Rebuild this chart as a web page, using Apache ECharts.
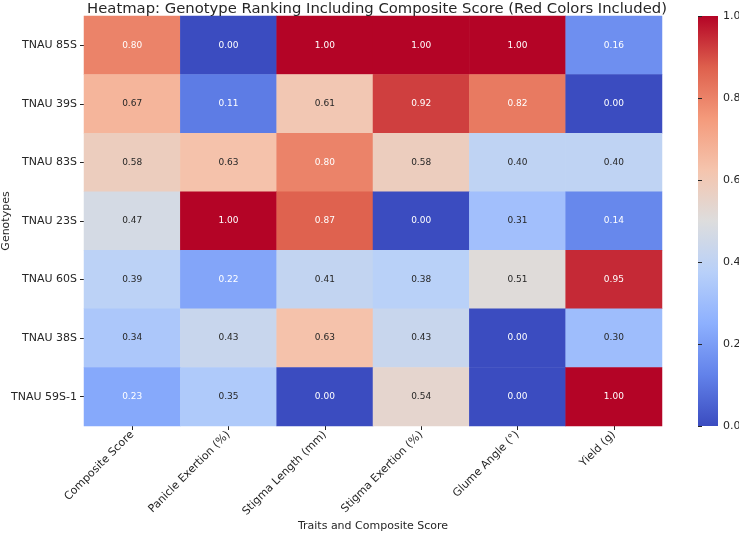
<!DOCTYPE html>
<html lang="en">
<head>
    <meta charset="UTF-8">
    <title>Heatmap: Genotype Ranking</title>
    <script src="https://cdn.jsdelivr.net/npm/echarts@6/dist/echarts.min.js"></script>
    <style>
        html, body { margin: 0; padding: 0; background: #fff; }
        #chart { width: 739px; height: 534px; }
    </style>
</head>
<body>
    <div id="chart"></div>
<script>
    // traits (x) and genotypes (y)
    const traits = ['Composite Score', 'Panicle Exertion (%)', 'Stigma Length (mm)', 'Stigma Exertion (%)', 'Glume Angle (°)', 'Yield (g)'];
    const genotypes = ['TNAU 85S', 'TNAU 39S', 'TNAU 83S', 'TNAU 23S', 'TNAU 60S', 'TNAU 38S', 'TNAU 59S-1'];

    // one row per genotype, same order as traits
    const row85S = [0.80, 0.00, 1.00, 1.00, 1.00, 0.16];
    const row39S = [0.67, 0.11, 0.61, 0.92, 0.82, 0.00];
    const row83S = [0.58, 0.63, 0.80, 0.58, 0.40, 0.40];
    const row23S = [0.47, 1.00, 0.87, 0.00, 0.31, 0.14];
    const row60S = [0.39, 0.22, 0.41, 0.38, 0.51, 0.95];
    const row38S = [0.34, 0.43, 0.63, 0.43, 0.00, 0.30];
    const row59S1 = [0.23, 0.35, 0.00, 0.54, 0.00, 1.00];
    const rows = [row85S, row39S, row83S, row23S, row60S, row38S, row59S1];

    // matplotlib coolwarm
    const coolwarm = ['#3b4cc0', '#6282ea', '#8db0fe', '#b8d0f9', '#dddddd', '#f5c4ad', '#f49a7b', '#de604d', '#b40426'];

    const font = 'DejaVu Sans';

    let data = [];
    for (let r = 0; r < rows.length; r++) {
        for (let c = 0; c < traits.length; c++) {
            let v = rows[r][c];
            let dark = v < 0.25 || v > 0.75;
            data.push({
                value: [c, r, v],
                label: { color: dark ? '#ffffff' : '#262626' }
            });
        }
    }

    // colorbar gradient, bottom = 0, top = 1
    let stops = coolwarm.map(function (c, i) {
        return { offset: 1 - i / (coolwarm.length - 1), color: c };
    }).reverse();

    let myChart = echarts.init(document.getElementById('chart'));
    let option = {
        animation: false,
        textStyle: { fontFamily: font },
        title: {
            text: 'Heatmap: Genotype Ranking Including Composite Score (Red Colors Included)',
            left: 372,
            textAlign: 'center',
            top: -3,
            textStyle: { fontFamily: font, fontSize: 14.8, fontWeight: 'normal', color: '#262626' }
        },
        grid: [
            { left: 84, top: 16, width: 578, height: 410, outerBoundsMode: 'none' },
            { left: 698, top: 16, width: 20, height: 410, outerBoundsMode: 'none' }
        ],
        graphic: [
            {
                type: 'rect',
                left: 698,
                top: 16,
                shape: { width: 20, height: 410 },
                style: { fill: new echarts.graphic.LinearGradient(0, 0, 0, 1, stops) },
                silent: true
            }
        ],
        xAxis: [
            {
                type: 'category',
                data: traits,
                gridIndex: 0,
                name: 'Traits and Composite Score',
                nameLocation: 'middle',
                nameGap: 95,
                nameMoveOverlap: false,
                nameTextStyle: { fontFamily: font, fontSize: 11, color: '#262626' },
                axisLine: { show: false },
                axisTick: { show: true, alignWithLabel: true, length: 4, lineStyle: { color: '#262626' } },
                axisLabel: { rotate: 45, fontSize: 11, color: '#262626', margin: 7, interval: 0 },
                splitLine: { show: false }
            },
            { type: 'value', gridIndex: 1, show: false, min: 0, max: 1 }
        ],
        yAxis: [
            {
                type: 'category',
                data: genotypes,
                gridIndex: 0,
                inverse: true,
                name: 'Genotypes',
                nameLocation: 'middle',
                nameGap: 72,
                nameRotate: 90,
                nameMoveOverlap: false,
                nameTextStyle: { fontFamily: font, fontSize: 11, color: '#262626' },
                axisLine: { show: false },
                axisTick: { show: true, alignWithLabel: true, length: 4, lineStyle: { color: '#262626' } },
                axisLabel: { fontSize: 11, color: '#262626', margin: 7 },
                splitLine: { show: false }
            },
            {
                type: 'value',
                gridIndex: 1,
                position: 'right',
                min: 0,
                max: 1,
                interval: 0.2,
                axisLine: { show: false },
                axisTick: { show: true, inside: false, length: 4, lineStyle: { color: '#262626' } },
                axisLabel: {
                    fontSize: 11, color: '#262626', margin: 5,
                    formatter: function (v) { return v.toFixed(1); }
                },
                splitLine: { show: false }
            }
        ],
        visualMap: {
            type: 'continuous',
            show: false,
            min: 0,
            max: 1,
            seriesIndex: 0,
            inRange: { color: coolwarm }
        },
        series: [
            {
                type: 'heatmap',
                xAxisIndex: 0,
                yAxisIndex: 0,
                data: data,
                label: {
                    show: true,
                    fontSize: 9,
                    fontFamily: font,
                    formatter: function (p) { return p.value[2].toFixed(2); }
                },
                itemStyle: { borderWidth: 0 },
                emphasis: { disabled: true }
            }
        ]
    };
    myChart.setOption(option);
</script>
</body>
</html>
